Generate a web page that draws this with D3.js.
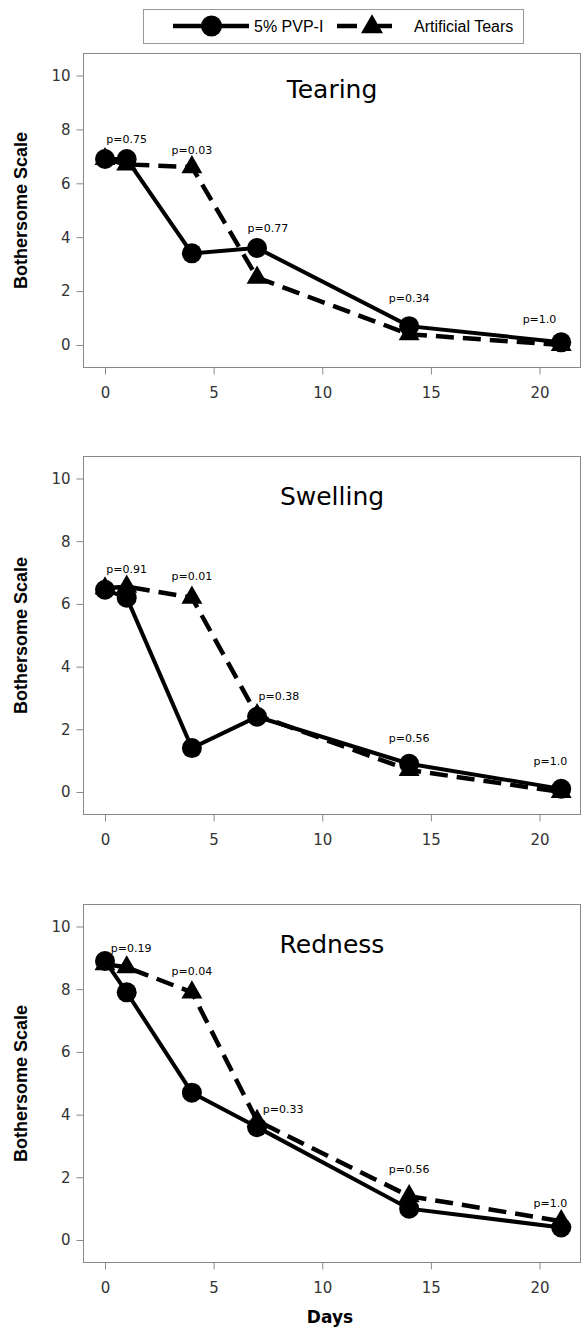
<!DOCTYPE html>
<html>
<head>
<meta charset="utf-8">
<script src="https://cdn.jsdelivr.net/npm/d3@7"></script>
<style>
  body { margin: 0; background: #fff; }
</style>
</head>
<body>
<div id="chart"></div>
<script>
// follow-up days and axis ticks
const days = [0, 1, 4, 7, 14, 21];
const xTicks = [0, 5, 10, 15, 20];
const yTicks = [0, 2, 4, 6, 8, 10];

const panelTitles = ["Tearing", "Swelling", "Redness"];
const seriesNames = ["5% PVP-I", "Artificial Tears"];

// mean bothersome scale, one value per day
const pvpTearing    = [6.9, 6.9, 3.4, 3.6, 0.7, 0.1];
const tearsTearing  = [6.9, 6.7, 6.6, 2.5, 0.4, 0.0];
const pvpSwelling   = [6.45, 6.2, 1.4, 2.4, 0.9, 0.1];
const tearsSwelling = [6.5, 6.55, 6.2, 2.45, 0.7, 0.0];
const pvpRedness    = [8.9, 7.9, 4.7, 3.6, 1.0, 0.4];
const tearsRedness  = [8.8, 8.7, 7.9, 3.8, 1.4, 0.6];

// p-values, with the day / score where each one is written
const pTearing      = ["p=0.75", "p=0.03", "p=0.77", "p=0.34", "p=1.0"];
const pTearingDay   = [1.0, 4.0, 7.5, 14.0, 20.0];
const pTearingAt    = [7.5, 7.1, 4.2, 1.6, 0.8];
const pSwelling     = ["p=0.91", "p=0.01", "p=0.38", "p=0.56", "p=1.0"];
const pSwellingDay  = [1.0, 4.0, 8.0, 14.0, 20.5];
const pSwellingAt   = [7.0, 6.75, 2.95, 1.6, 0.85];
const pRedness      = ["p=0.19", "p=0.04", "p=0.33", "p=0.56", "p=1.0"];
const pRednessDay   = [1.2, 4.0, 8.2, 14.0, 20.5];
const pRednessAt    = [9.2, 8.45, 4.05, 2.15, 1.05];

const panels = [
    { title: panelTitles[0], pvp: pvpTearing,  tears: tearsTearing,  p: pTearing,  pDay: pTearingDay,  pAt: pTearingAt },
    { title: panelTitles[1], pvp: pvpSwelling, tears: tearsSwelling, p: pSwelling, pDay: pSwellingDay, pAt: pSwellingAt },
    { title: panelTitles[2], pvp: pvpRedness,  tears: tearsRedness,  p: pRedness,  pDay: pRednessDay,  pAt: pRednessAt }
];

// layout
const width = 582;
const height = 1330;
const frameLeft = 83.5;
const frameRight = 580.5;
const frameTops = [53.5, 456.5, 904.5];
const frameBottoms = [367.5, 814.5, 1262.5];
const tickFont = "'DejaVu Sans', sans-serif";

const svg = d3.select("#chart").append("svg")
    .attr("width", width)
    .attr("height", height)
    .style("display", "block");

const x = d3.scaleLinear().domain([0, 20]).range([105, 539.5]);

// legend
const legend = svg.append("g");
legend.append("rect")
    .attr("x", 143.5).attr("y", 9.5)
    .attr("width", 380).attr("height", 34)
    .attr("fill", "none").attr("stroke", "#999");
legend.append("line")
    .attr("x1", 173).attr("x2", 249).attr("y1", 26).attr("y2", 26)
    .attr("stroke", "#000").attr("stroke-width", 4.5);
legend.append("circle")
    .attr("cx", 211.5).attr("cy", 26).attr("r", 10.5).attr("fill", "#000");
legend.append("text")
    .attr("x", 254).attr("y", 32)
    .style("font", "16px 'Liberation Sans', Arial, sans-serif")
    .text(seriesNames[0]);
legend.append("line")
    .attr("x1", 337).attr("x2", 392).attr("y1", 26).attr("y2", 26)
    .attr("stroke", "#000").attr("stroke-width", 4.5)
    .attr("stroke-dasharray", "20 21 14");
legend.append("path")
    .attr("d", d3.symbol(d3.symbolTriangle, 210)())
    .attr("transform", "translate(372,27)")
    .attr("fill", "#000");
legend.append("text")
    .attr("x", 414).attr("y", 32)
    .style("font", "16px 'Liberation Sans', Arial, sans-serif")
    .text(seriesNames[1]);

panels.forEach((panel, i) => {
    const top = frameTops[i];
    const bottom = frameBottoms[i];
    const y = d3.scaleLinear().domain([0, 10]).range([bottom - 22.5, top + 22]);
    const g = svg.append("g");

    g.append("rect")
        .attr("x", frameLeft).attr("y", top)
        .attr("width", frameRight - frameLeft).attr("height", bottom - top)
        .attr("fill", "none").attr("stroke", "#888");

    const yAxis = g.append("g")
        .attr("transform", `translate(${frameLeft},0)`)
        .call(d3.axisLeft(y).tickValues(yTicks).tickSize(7).tickPadding(6));
    const xAxis = g.append("g")
        .attr("transform", `translate(0,${bottom})`)
        .call(d3.axisBottom(x).tickValues(xTicks).tickSize(7).tickPadding(13));
    [yAxis, xAxis].forEach(ax => {
        ax.select(".domain").remove();
        ax.selectAll(".tick line").attr("stroke", "#888");
        ax.selectAll(".tick text")
            .attr("fill", "#333")
            .style("font-family", tickFont)
            .style("font-size", "15px");
    });

    g.append("text")
        .attr("transform", `translate(26.5,${(top + bottom) / 2}) rotate(-90)`)
        .attr("text-anchor", "middle")
        .style("font", "bold 18px 'Liberation Sans', Arial, sans-serif")
        .text("Bothersome Scale");

    // title sits inside the frame
    g.append("text")
        .attr("x", (frameLeft + frameRight) / 2)
        .attr("y", y(9.15))
        .attr("text-anchor", "middle")
        .style("font", "25px 'DejaVu Sans', sans-serif")
        .text(panel.title);

    const line = d3.line().x(d => x(d[0])).y(d => y(d[1]));

    // artificial tears first, PVP-I drawn over it
    g.append("path")
        .datum(d3.zip(days, panel.tears))
        .attr("d", line)
        .attr("fill", "none").attr("stroke", "#000")
        .attr("stroke-width", 4.5)
        .attr("stroke-dasharray", "18 9");
    g.selectAll(".tri")
        .data(d3.zip(days, panel.tears))
        .enter().append("path")
        .attr("class", "tri")
        .attr("d", d3.symbol(d3.symbolTriangle, 190)())
        .attr("transform", d => `translate(${x(d[0])},${y(d[1])})`)
        .attr("fill", "#000");

    g.append("path")
        .datum(d3.zip(days, panel.pvp))
        .attr("d", line)
        .attr("fill", "none").attr("stroke", "#000")
        .attr("stroke-width", 4);
    g.selectAll(".dot")
        .data(d3.zip(days, panel.pvp))
        .enter().append("circle")
        .attr("class", "dot")
        .attr("cx", d => x(d[0]))
        .attr("cy", d => y(d[1]))
        .attr("r", 10)
        .attr("fill", "#000");

    g.selectAll(".pval")
        .data(d3.zip(panel.p, panel.pDay, panel.pAt))
        .enter().append("text")
        .attr("class", "pval")
        .attr("x", d => x(d[1]))
        .attr("y", d => y(d[2]))
        .attr("text-anchor", "middle")
        .style("font", "11px 'DejaVu Sans', sans-serif")
        .text(d => d[0]);
});

svg.append("text")
    .attr("x", (frameLeft + frameRight) / 2 - 2)
    .attr("y", 1323)
    .attr("text-anchor", "middle")
    .style("font", "bold 17px 'DejaVu Sans', sans-serif")
    .text("Days");
</script>
</body>
</html>
